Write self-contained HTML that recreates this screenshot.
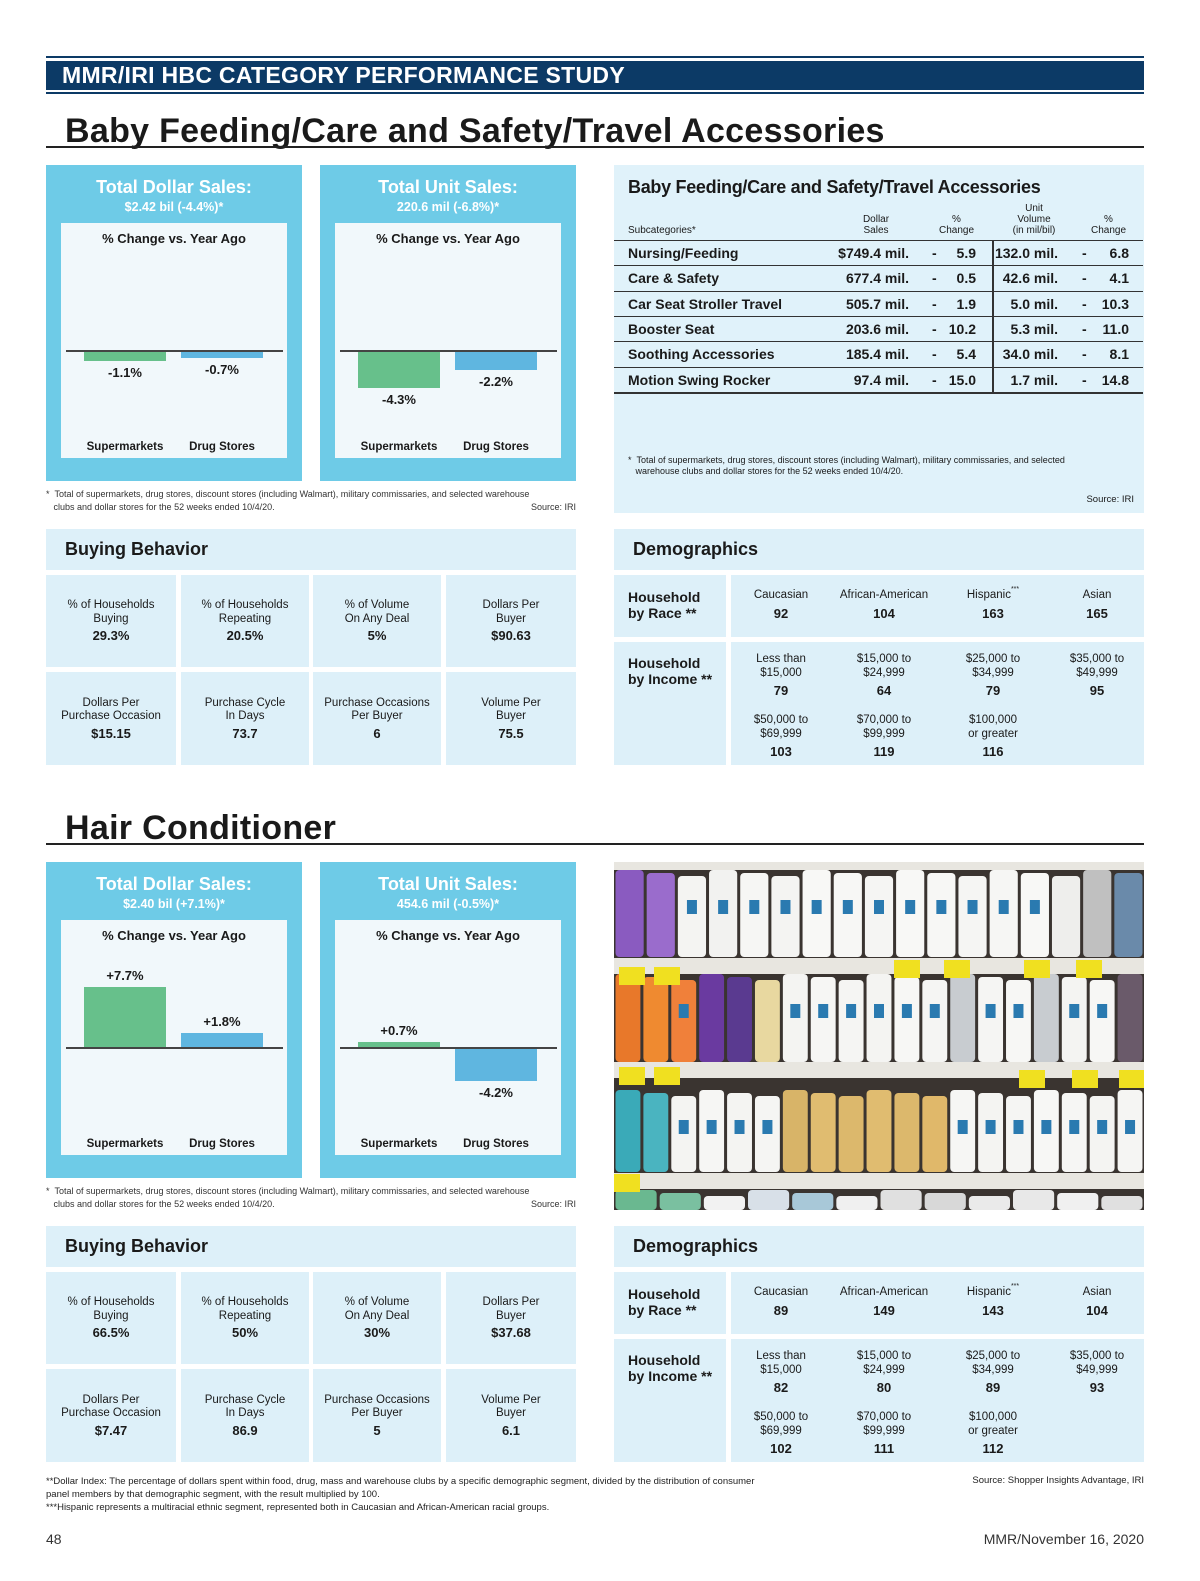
<!DOCTYPE html>
<html><head><meta charset="utf-8">
<style>
*{margin:0;padding:0;box-sizing:border-box}
body{width:1200px;height:1581px;background:#fff;position:relative;font-family:"Liberation Sans",sans-serif;color:#1a1a1a;overflow:hidden}
.a{position:absolute}
.c{text-align:center}
.n{font-family:"Liberation Sans Narrow","Liberation Sans",sans-serif}
.box{background:#6ecbe7}
.inner{background:#f1f8fb}
.pan{background:#ddf0f9}
.bt{color:#fff;font-weight:bold;font-size:18px;width:100%;text-align:center}
.bs{color:#fff;font-weight:bold;font-size:12.5px;width:100%;text-align:center}
.cell{font-size:11.5px;line-height:13.5px;text-align:center;display:flex;flex-direction:column;justify-content:center;align-items:center}
.cell b{font-size:13px;margin-top:3px}
.fn{font-size:9px;color:#333;line-height:13px}
.tr{position:absolute;left:0;width:529px;height:25px;border-top:1.5px solid #333;font-weight:bold;font-size:14px}
.tr span{position:absolute;top:4px}
.sup{font-size:7px;vertical-align:top;line-height:0;position:relative;top:1px}
</style></head><body>

<div class="a" style="left:46px;top:56px;width:1098px;height:2px;background:#0c3a66"></div>
<div class="a" style="left:46px;top:61px;width:1098px;height:29px;background:#0c3a66;color:#fff;font-weight:bold;font-size:23px;padding-left:16px;line-height:29px;letter-spacing:0.3px">MMR/IRI HBC CATEGORY PERFORMANCE STUDY</div>
<div class="a" style="left:46px;top:92px;width:1098px;height:2px;background:#0c3a66"></div>

<div id="s1"></div>
<div id="s2"></div>

<div class="a fn" style="left:46px;top:1475px;width:720px;font-size:9.5px;line-height:13px;color:#222">**Dollar Index: The percentage of dollars spent within food, drug, mass and warehouse clubs by a specific demographic segment, divided by the distribution of consumer panel members by that demographic segment, with the result multiplied by 100.<br>***Hispanic represents a multiracial ethnic segment, represented both in Caucasian and African-American racial groups.</div>
<div class="a" style="right:56px;top:1475px;font-size:9.5px;color:#222">Source: Shopper Insights Advantage, IRI</div>
<div class="a" style="left:46px;top:1531px;font-size:14px;color:#333">48</div>
<div class="a" style="right:56px;top:1531px;font-size:14px;color:#333">MMR/November 16, 2020</div>

<script>
const categories = ["Supermarkets", "Drug Stores"];
const babyDollarChange = [-1.1, -0.7];
const babyUnitChange = [-4.3, -2.2];
const hairDollarChange = [7.7, 1.8];
const hairUnitChange = [0.7, -4.2];
const babyRows = ["Nursing/Feeding","Care & Safety","Car Seat Stroller Travel","Booster Seat","Soothing Accessories","Motion Swing Rocker"];
const babyDollarSales = ["$749.4 mil.","677.4 mil.","505.7 mil.","203.6 mil.","185.4 mil.","97.4 mil."];
const babyDollarPct = ["5.9","0.5","1.9","10.2","5.4","15.0"];
const babyUnitVol = ["132.0 mil.","42.6 mil.","5.0 mil.","5.3 mil.","34.0 mil.","1.7 mil."];
const babyUnitPct = ["6.8","4.1","10.3","11.0","8.1","14.8"];

function chartBox(x, y, title, sub, vals, scale, name){
  let h = `<div class="a box" style="left:${x}px;top:${y}px;width:256px;height:316px">
  <div class="a bt" style="top:12px">${title}</div><div class="a bs" style="top:35px">${sub}</div>
  <div class="a inner" style="left:15px;top:58px;width:226px;height:235px">
  <div class="a" style="top:8px;width:100%;text-align:center;font-weight:bold;font-size:13px">% Change vs. Year Ago</div>`;
  const base = 127, colors = ["#67c08b","#5fb6e0"], bx=[23,120];
  h += `<div class="a" style="left:5px;top:${base}px;width:217px;height:1.5px;background:#444"></div>`;
  vals.forEach((v,i)=>{
    const hp = Math.abs(v)*scale;
    const top = v>=0 ? base-hp : base+1.5;
    h += `<div class="a" style="left:${bx[i]}px;top:${top}px;width:82px;height:${hp}px;background:${colors[i]}"></div>`;
    const ly = v>=0 ? top-19 : top+hp+4;
    h += `<div class="a n" style="left:${bx[i]}px;top:${ly}px;width:82px;text-align:center;font-weight:bold;font-size:13px">${v>0?'+':''}${v.toFixed(1)}%</div>`;
    h += `<div class="a" style="left:${bx[i]-20}px;top:218px;width:122px;text-align:center;font-weight:bold;font-size:11.5px">${categories[i]}</div>`;
  });
  return h + `</div></div>`;
}

function buying(y, vals, name){
  const labels=[["% of Households","Buying"],["% of Households","Repeating"],["% of Volume","On Any Deal"],["Dollars Per","Buyer"],["Dollars Per","Purchase Occasion"],["Purchase Cycle","In Days"],["Purchase Occasions","Per Buyer"],["Volume Per","Buyer"]];
  const cx=[46,181,313,446], cw=[130,128,128,130];
  let h=`<div class="a pan" style="left:46px;top:${y}px;width:530px;height:41px;font-weight:bold;font-size:18px;padding:10px 0 0 19px">Buying Behavior</div>`;
  labels.forEach((l,i)=>{
    const r=Math.floor(i/4), c=i%4;
    h+=`<div class="a pan cell" style="left:${cx[c]}px;top:${y+46+r*97}px;width:${cw[c]}px;height:${r?93:92}px">${l[0]}<br>${l[1]}<b>${vals[i]}</b></div>`;
  });
  return h;
}

function demo(y, race, inc, name){
  let h=`<div class="a pan" style="left:614px;top:${y}px;width:530px;height:41px;font-weight:bold;font-size:18px;padding:10px 0 0 19px">Demographics</div>`;
  h+=`<div class="a pan" style="left:614px;top:${y+46}px;width:112px;height:62px;font-weight:bold;font-size:14px;line-height:16px;padding:14px 0 0 14px">Household<br>by Race **</div>`;
  h+=`<div class="a pan" style="left:731px;top:${y+46}px;width:413px;height:62px"></div>`;
  h+=`<div class="a pan" style="left:614px;top:${y+113}px;width:112px;height:123px;font-weight:bold;font-size:14px;line-height:16px;padding:13px 0 0 14px">Household<br>by Income **</div>`;
  h+=`<div class="a pan" style="left:731px;top:${y+113}px;width:413px;height:123px"></div>`;
  const cx=[781,884,993,1097];
  const rl=["Caucasian","African-American","Hispanic<span class='sup'>***</span>","Asian"];
  rl.forEach((l,i)=>{h+=`<div class="a cell" style="left:${cx[i]-55}px;top:${y+60}px;width:110px;display:block">${l}<br><b style="display:block;margin-top:4px">${race[i]}</b></div>`;});
  const il=[["Less than","$15,000"],["$15,000 to","$24,999"],["$25,000 to","$34,999"],["$35,000 to","$49,999"],["$50,000 to","$69,999"],["$70,000 to","$99,999"],["$100,000","or greater"]];
  il.forEach((l,i)=>{const r=Math.floor(i/4),c=i%4;h+=`<div class="a cell" style="left:${cx[c]-55}px;top:${y+124+r*61}px;width:110px;display:block">${l[0]}<br>${l[1]}<b style="display:block;margin-top:4px">${inc[i]}</b></div>`;});
  return h;
}

function footnote(y,name){
  return `<div class="a fn" style="left:46px;top:${y}px;width:530px">* &nbsp;Total of supermarkets, drug stores, discount stores (including Walmart), military commissaries, and selected warehouse<br>&nbsp;&nbsp;&nbsp;clubs and dollar stores for the 52 weeks ended 10/4/20.<span style="position:absolute;right:0">Source: IRI</span></div>`;
}

function title(y,t,name){
  return `<div class="a" style="left:65px;top:${y-1}px;font-weight:bold;font-size:34px;letter-spacing:0.3px">${t}</div><div class="a" style="left:46px;top:${y+33}px;width:1098px;height:1.5px;background:#222"></div>`;
}

// Section 1
let s1 = title(113,"Baby Feeding/Care and Safety/Travel Accessories","baby");
s1 += chartBox(46,165,"Total Dollar Sales:","$2.42 bil (-4.4%)*",babyDollarChange,8.6,"baby-dollar");
s1 += chartBox(320,165,"Total Unit Sales:","220.6 mil (-6.8%)*",babyUnitChange,8.6,"baby-unit");
s1 += footnote(488,"baby");
let t = `<div class="a pan" style="left:614px;top:165px;width:530px;height:348px;background:#e0f2fa">
<div class="a" style="left:14px;top:12px;font-weight:bold;font-size:18px;letter-spacing:-0.3px">Baby Feeding/Care and Safety/Travel Accessories</div>
<div class="a n" style="left:14px;top:60px;font-size:10px">Subcategories*</div>
<div class="a n c" style="left:232px;top:49px;width:60px;font-size:10px;line-height:11px">Dollar<br>Sales</div>
<div class="a n c" style="left:315px;top:49px;width:55px;font-size:10px;line-height:11px">%<br>Change</div>
<div class="a n c" style="left:385px;top:38px;width:70px;font-size:10px;line-height:11px">Unit<br>Volume<br>(in mil/bil)</div>
<div class="a n c" style="left:467px;top:49px;width:55px;font-size:10px;line-height:11px">%<br>Change</div>
<div class="a" style="left:378px;top:75px;width:1.5px;height:153px;background:#333"></div>`;
babyRows.forEach((r,i)=>{
  t+=`<div class="tr" style="top:${75+i*25.3}px"><span style="left:14px">${r}</span><span style="right:234px">${babyDollarSales[i]}</span><span style="left:318px">-</span><span style="right:167px">${babyDollarPct[i]}</span><span style="right:85px">${babyUnitVol[i]}</span><span style="left:468px">-</span><span style="right:14px">${babyUnitPct[i]}</span></div>`;
});
t+=`<div class="a" style="left:0;top:227px;width:529px;height:1.5px;background:#333"></div>
<div class="a" style="left:14px;top:290px;font-size:9px;line-height:11px">* &nbsp;Total of supermarkets, drug stores, discount stores (including Walmart), military commissaries, and selected<br>&nbsp;&nbsp;&nbsp;warehouse clubs and dollar stores for the 52 weeks ended 10/4/20.</div>
<div class="a" style="right:10px;top:329px;font-size:9.5px">Source: IRI</div></div>`;
s1+=t;
s1 += buying(529,["29.3%","20.5%","5%","$90.63","$15.15","73.7","6","75.5"],"baby");
s1 += demo(529,["92","104","163","165"],["79","64","79","95","103","119","116"],"baby");
document.getElementById('s1').innerHTML = s1;

// Section 2
const O=697;
let s2 = title(113+O,"Hair Conditioner","hair");
s2 += chartBox(46,165+O,"Total Dollar Sales:","$2.40 bil (+7.1%)*",hairDollarChange,7.8,"hair-dollar");
s2 += chartBox(320,165+O,"Total Unit Sales:","454.6 mil (-0.5%)*",hairUnitChange,7.8,"hair-unit");
s2 += footnote(488+O,"hair");
const rowsC = [
 ["#8a5bc0","#9a6ccc","#f4f4f2","#f2f2f0","#f6f6f4","#f4f4f2","#f8f8f6","#f7f7f5","#f5f5f3","#f8f8f6","#f7f7f5","#f5f5f3","#f6f6f4","#f8f8f6","#eeeeec","#c0c0c0","#6a8aaa"],
 ["#e8782a","#ef8a30","#f0803a","#6a3aa0","#5a3a90","#e8d8a0","#f4f4f2","#f6f6f4","#f5f5f3","#f4f4f2","#f7f7f5","#f5f5f3","#c8ccd0","#f5f5f3","#f7f7f5","#c8ccd0","#f4f4f2","#f7f7f5","#6a5a6a"],
 ["#3aaab8","#4ab4c0","#f4f4f2","#f6f6f4","#f4f4f2","#f5f5f3","#d8b468","#e0bc70","#dcb86c","#e0bc70","#dcb86c","#e0b86a","#f6f6f4","#f4f4f2","#f5f5f3","#f7f7f5","#f6f6f4","#f4f4f2","#f5f5f3"],
 ["#6ab890","#7ac0a0","#f2f2f2","#d8e0e8","#a8c8d8","#f0f0f0","#e0e0e0","#d8d8d8","#eaeaea","#e8e8e8","#f0f0f0","#e0e0e0"]
];
let svg = `<svg class="a" style="left:614px;top:${862}px" width="530" height="348" viewBox="0 0 530 348"><rect width="530" height="348" fill="#3a3430"/>`;
const rowY=[[8,95],[112,200],[228,310],[328,348]];
rowsC.forEach((row,ri)=>{
  const w=530/row.length;
  row.forEach((c,i)=>{
    svg+=`<rect x="${i*w+1.5}" y="${rowY[ri][0]+ (i%3)*3}" width="${w-3}" height="${rowY[ri][1]-rowY[ri][0]-(i%3)*3}" rx="4" fill="${c}"/>`;
    if(c.startsWith('#f')) svg+=`<rect x="${i*w+w/2-5}" y="${rowY[ri][0]+30}" width="10" height="14" fill="#2a7ab0"/>`;
  });
});
[[0,8],[96,16],[200,16],[311,16]].forEach(s=>{svg+=`<rect x="0" y="${s[0]}" width="530" height="${s[1]}" fill="#e8e6e0"/>`;});
[[5,105],[40,105],[280,98],[330,98],[410,98],[462,98],[5,205],[40,205],[405,208],[458,208],[505,208],[0,312]].forEach(p=>{svg+=`<rect x="${p[0]}" y="${p[1]}" width="26" height="18" fill="#f0e020"/>`;});
svg+=`</svg>`;
s2+=svg;
s2 += buying(529+O,["66.5%","50%","30%","$37.68","$7.47","86.9","5","6.1"],"hair");
s2 += demo(529+O,["89","149","143","104"],["82","80","89","93","102","111","112"],"hair");
document.getElementById('s2').innerHTML = s2;
</script>
</body></html>
